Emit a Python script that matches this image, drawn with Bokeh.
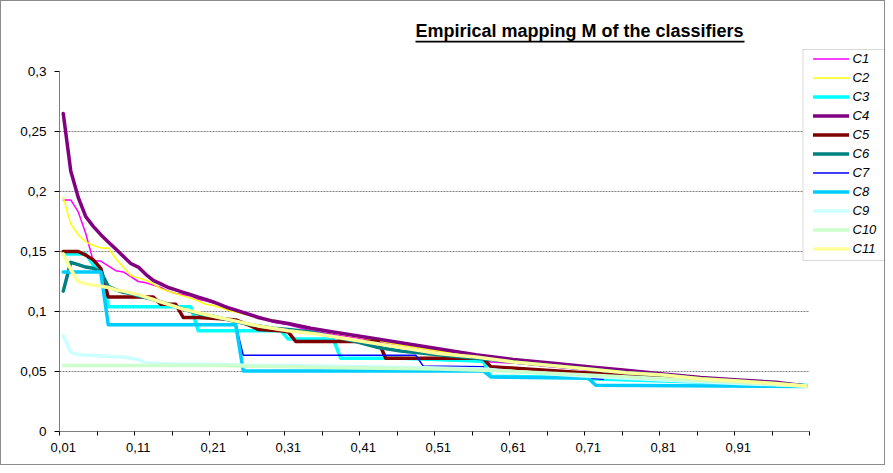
from bokeh.plotting import figure
from bokeh.models import (Range1d, FixedTicker, LinearAxis, Legend, LegendItem,
                          Label, BoxAnnotation, Grid)
from bokeh.embed import file_html
from bokeh.resources import INLINE

# ---------------- data ----------------
title_text = "Empirical mapping M of the classifiers"
series_names = ["C1", "C2", "C3", "C4", "C5", "C6", "C7", "C8", "C9", "C10", "C11"]

x_labels = [0.01, 0.11, 0.21, 0.31, 0.41, 0.51, 0.61, 0.71, 0.81, 0.91]
x_label_text = ["0,01", "0,11", "0,21", "0,31", "0,41", "0,51", "0,61", "0,71", "0,81", "0,91"]
y_ticks = [0, 0.05, 0.1, 0.15, 0.2, 0.25, 0.3]
y_tick_text = ["0", "0,05", "0,1", "0,15", "0,2", "0,25", "0,3"]

c1_x = [0.01, 0.02, 0.03, 0.04, 0.05, 0.06, 0.07, 0.08, 0.09, 0.10, 0.11, 0.12, 0.13, 0.14,
        0.15, 0.16, 0.17, 0.18, 0.19, 0.20, 0.21, 0.23, 0.25, 0.27, 0.29, 0.31, 0.34, 0.37,
        0.41, 0.46, 0.51, 0.56, 0.58, 0.61, 0.66, 0.71, 0.76, 0.81, 0.86, 0.91, 0.96, 1.00]
c1_y = [0.193, 0.193, 0.183, 0.165, 0.142, 0.142, 0.138, 0.134, 0.133, 0.129, 0.125, 0.124,
        0.122, 0.120, 0.117, 0.115, 0.114, 0.113, 0.110, 0.109, 0.107, 0.104, 0.100, 0.096,
        0.091, 0.089, 0.084, 0.081, 0.077, 0.071, 0.066, 0.060, 0.058, 0.057, 0.054, 0.051,
        0.049, 0.047, 0.044, 0.042, 0.040, 0.038]

c2_x = [0.01, 0.02, 0.03, 0.04, 0.05, 0.06, 0.07, 0.08, 0.09, 0.10, 0.11, 0.12, 0.13, 0.14,
        0.15, 0.16, 0.17, 0.18, 0.19, 0.20, 0.21, 0.23, 0.25, 0.27, 0.29, 0.31, 0.34, 0.37,
        0.41, 0.46, 0.51, 0.56, 0.61, 0.66, 0.71, 0.76, 0.81, 0.86, 0.91, 0.96, 1.00]
c2_y = [0.195, 0.173, 0.164, 0.158, 0.155, 0.153, 0.153, 0.144, 0.137, 0.130, 0.128, 0.126,
        0.123, 0.119, 0.117, 0.115, 0.113, 0.111, 0.109, 0.106, 0.105, 0.101, 0.098, 0.095,
        0.093, 0.090, 0.086, 0.082, 0.078, 0.072, 0.067, 0.062, 0.058, 0.055, 0.052, 0.049,
        0.047, 0.045, 0.042, 0.040, 0.038]

c3_x = [0.01, 0.04, 0.05, 0.06, 0.07, 0.18, 0.19, 0.30, 0.31, 0.37, 0.38, 0.46, 0.57, 0.58,
        0.70, 0.71, 1.00]
c3_y = [0.148, 0.148, 0.139, 0.135, 0.104, 0.104, 0.084, 0.084, 0.077, 0.077, 0.061, 0.061,
        0.0585, 0.046, 0.045, 0.044, 0.0385]

c4_x = [0.01, 0.02, 0.03, 0.04, 0.05, 0.06, 0.07, 0.08, 0.09, 0.10, 0.11, 0.12, 0.13, 0.14,
        0.15, 0.16, 0.17, 0.18, 0.19, 0.20, 0.21, 0.23, 0.25, 0.27, 0.29, 0.31, 0.34, 0.37,
        0.41, 0.46, 0.51, 0.56, 0.61, 0.66, 0.71, 0.76, 0.81, 0.86, 0.91, 0.96, 1.00]
c4_y = [0.265, 0.217, 0.195, 0.179, 0.171, 0.164, 0.158, 0.152, 0.146, 0.140, 0.137, 0.131,
        0.126, 0.123, 0.120, 0.118, 0.116, 0.114, 0.112, 0.110, 0.108, 0.103, 0.099, 0.095,
        0.092, 0.090, 0.086, 0.083, 0.079, 0.074, 0.069, 0.064, 0.060, 0.057, 0.054, 0.051,
        0.048, 0.045, 0.043, 0.041, 0.038]

c5_x = [0.01, 0.03, 0.04, 0.05, 0.06, 0.07, 0.13, 0.14, 0.16, 0.17, 0.19, 0.22, 0.24, 0.26,
        0.27, 0.30, 0.31, 0.32, 0.43, 0.44, 0.57, 0.58, 0.73, 0.81, 0.91, 1.00]
c5_y = [0.150, 0.150, 0.147, 0.143, 0.136, 0.112, 0.112, 0.106, 0.106, 0.095, 0.095, 0.094,
        0.093, 0.088, 0.085, 0.084, 0.083, 0.075, 0.075, 0.061, 0.061, 0.054, 0.048, 0.045,
        0.042, 0.038]

c6_x = [0.01, 0.02, 0.03, 0.04, 0.05, 0.06, 0.07, 0.08, 0.09, 0.10, 0.11, 0.13, 0.16, 0.19,
        0.21, 0.23, 0.26, 0.29, 0.31, 0.34, 0.37, 0.40, 0.43, 0.46, 0.51, 0.56, 0.61, 0.66,
        0.71, 0.76, 0.81, 0.86, 0.91, 0.96, 1.00]
c6_y = [0.117, 0.141, 0.139, 0.137, 0.136, 0.133, 0.121, 0.118, 0.116, 0.115, 0.113, 0.110,
        0.104, 0.098, 0.096, 0.093, 0.089, 0.086, 0.085, 0.083, 0.079, 0.075, 0.070, 0.067,
        0.064, 0.061, 0.058, 0.055, 0.052, 0.049, 0.047, 0.044, 0.042, 0.040, 0.038]

c7_x = [0.01, 0.06, 0.07, 0.24, 0.25, 0.48, 0.49, 0.57, 0.58, 0.71, 0.73]
c7_y = [0.133, 0.133, 0.089, 0.089, 0.0635, 0.0635, 0.0545, 0.054, 0.0455, 0.0444, 0.0436]

c8_x = [0.01, 0.06, 0.07, 0.24, 0.25, 0.57, 0.58, 0.71, 0.72, 1.00]
c8_y = [0.133, 0.133, 0.089, 0.089, 0.0505, 0.0505, 0.0455, 0.0444, 0.0385, 0.0375]

c9_x = [0.01, 0.02, 0.03, 0.06, 0.09, 0.11, 0.12, 0.16, 0.21, 0.26, 0.31, 0.41, 0.51, 0.57,
        0.61, 0.71, 0.81, 0.91, 1.00]
c9_y = [0.080, 0.066, 0.064, 0.063, 0.062, 0.060, 0.057, 0.056, 0.056, 0.055, 0.055, 0.054,
        0.053, 0.052, 0.050, 0.046, 0.043, 0.040, 0.038]

c10_x = [0.01, 0.11, 0.21, 0.31, 0.41, 0.51, 0.57, 0.61, 0.71, 0.81, 0.91, 1.00]
c10_y = [0.055, 0.055, 0.055, 0.054, 0.053, 0.052, 0.051, 0.050, 0.047, 0.044, 0.041, 0.038]

c11_x = [0.01, 0.02, 0.03, 0.04, 0.05, 0.06, 0.07, 0.08, 0.09, 0.11, 0.13, 0.15, 0.17, 0.19,
         0.21, 0.24, 0.27, 0.31, 0.35, 0.41, 0.46, 0.51, 0.56, 0.61, 0.66, 0.71, 0.76, 0.81,
         0.86, 0.91, 0.96, 1.00]
c11_y = [0.148, 0.135, 0.125, 0.123, 0.122, 0.121, 0.120, 0.118, 0.117, 0.114, 0.110, 0.106,
         0.102, 0.099, 0.096, 0.092, 0.088, 0.084, 0.081, 0.075, 0.070, 0.065, 0.062, 0.058,
         0.055, 0.052, 0.049, 0.047, 0.044, 0.042, 0.040, 0.038]

series_x = [c1_x, c2_x, c3_x, c4_x, c5_x, c6_x, c7_x, c8_x, c9_x, c10_x, c11_x]
series_y = [c1_y, c2_y, c3_y, c4_y, c5_y, c6_y, c7_y, c8_y, c9_y, c10_y, c11_y]

# ---------------- styling / layout ----------------
colors = ["#FF00FF", "#FFFF00", "#00FFFF", "#800080", "#800000", "#008080",
          "#0000FF", "#00CCFF", "#CCFFFF", "#CCFFCC", "#FFFF99"]
widths = [1.5, 1.5, 3.5, 3.5, 3.5, 3.5, 1.5, 3.5, 3.5, 3.5, 3.5]
FONT = "Liberation Sans"

W, H = 885, 465
ML, MT, MB = 58, 10, 35          # frame: x 58..885, y 10..430
MR = 0
FW, FH = W - ML - MR, H - MT - MB
PX_X = 750.0                     # px per unit x (100 categories of 7.5 px)
PX_Y = 1200.0                    # px per unit y
X0 = 0.005                       # left edge of the category axis
X1 = X0 + 1.0                    # right edge of the category axis
x_end = X0 + FW / PX_X
y_end = FH / PX_Y

p = figure(width=W, height=H, output_backend="svg", toolbar_location=None,
           x_range=Range1d(X0, x_end), y_range=Range1d(0, y_end),
           min_border_left=ML, min_border_right=MR, min_border_top=MT, min_border_bottom=MB,
           x_axis_location=None, y_axis_location=None)
p.center = [r for r in p.center if not isinstance(r, Grid)]
p.outline_line_color = None
p.background_fill_color = "white"
p.border_fill_color = "white"
p.styles = {"border": "1px solid #8c8c8c"}

# y axis (line drawn separately so it stops at the top tick)
ya = LinearAxis(ticker=FixedTicker(ticks=y_ticks),
                major_label_overrides={t: s for t, s in zip(y_ticks, y_tick_text)},
                major_tick_out=5, major_tick_in=0, minor_tick_line_color=None,
                major_label_standoff=8, major_label_text_font=FONT,
                major_label_text_font_size="13.5px", major_label_text_color="black",
                axis_line_color=None, major_tick_line_color="black")
p.add_layout(ya, "left")

# x axis: labels centred on categories, (minor) tick marks on category boundaries
bounds = [X0 + 0.05 * k for k in range(21)]
xa = LinearAxis(ticker=FixedTicker(ticks=x_labels, minor_ticks=bounds),
                major_label_overrides={t: s for t, s in zip(x_labels, x_label_text)},
                major_tick_out=4, major_tick_in=0, major_tick_line_color=None,
                minor_tick_out=4, minor_tick_in=0, minor_tick_line_color="black",
                axis_line_color=None, major_label_standoff=7,
                major_label_text_font=FONT, major_label_text_font_size="13px",
                major_label_text_color="black")
p.add_layout(xa, "below")

# gridlines (only across the category area)
grid_y = y_ticks[1:-1]
p.segment(x0=[X0] * len(grid_y), y0=grid_y, x1=[X1] * len(grid_y), y1=grid_y,
          line_color="#808080", line_dash="2 1", line_width=1)
# axis lines
p.segment(x0=[X0, X0], y0=[0, 0], x1=[X0, X1], y1=[y_ticks[-1], 0],
          line_color="black", line_width=1)

renderers = []
for xs, ys, c, w in zip(series_x, series_y, colors, widths):
    r = p.line(xs, ys, line_color=c, line_width=w, line_join="round", line_cap="round")
    renderers.append(r)

# legend box
lx0, lx1, ly0, ly1 = 801.5, 884, 48, 259
p.add_layout(BoxAnnotation(left=lx0 - ML, right=lx1 - ML, top=H - MB - ly0, bottom=H - MB - ly1,
                           left_units="screen", right_units="screen",
                           top_units="screen", bottom_units="screen",
                           fill_color="white", fill_alpha=1, line_color="#808080", line_width=1,
                           level="annotation"))

legend = Legend(items=[LegendItem(label=n, renderers=[r]) for n, r in zip(series_names, renderers)],
                location=(811.5 - ML, H - MB - (48 + 209)), padding=0, margin=0, spacing=0,
                glyph_width=36, glyph_height=19, label_height=19, label_standoff=4,
                label_text_font=FONT, label_text_font_style="italic",
                label_text_font_size="13px", label_text_color="black",
                border_line_color=None, background_fill_alpha=0)
p.add_layout(legend)

# title with underline
p.add_layout(Label(x=414 - ML, y=H - MB - 37 + 8, x_units="screen", y_units="screen",
                   text=title_text, text_font=FONT, text_font_style="bold",
                   text_font_size="18px", text_color="black",
                   text_baseline="alphabetic", text_align="left"))
p.add_layout(BoxAnnotation(left=414 - ML, right=743 - ML, top=H - MB - 39.3, bottom=H - MB - 41,
                           left_units="screen", right_units="screen",
                           top_units="screen", bottom_units="screen",
                           fill_color="black", fill_alpha=1, line_color=None))

open("out.html", "w").write(file_html(p, INLINE))
